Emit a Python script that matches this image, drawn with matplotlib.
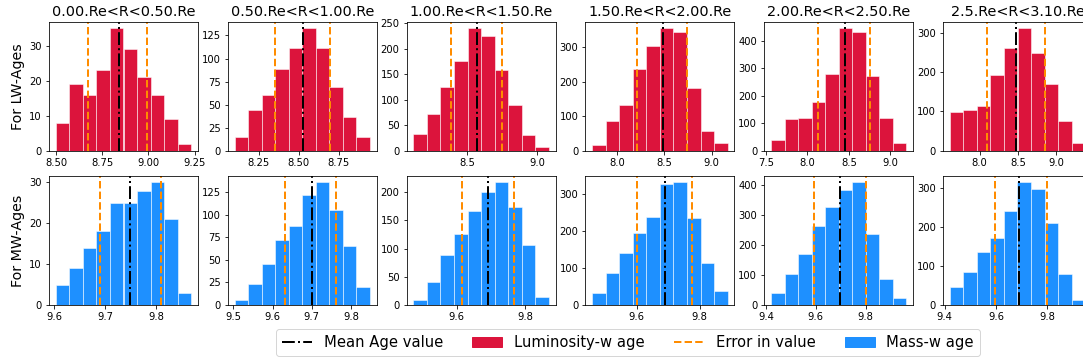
import numpy as np
import matplotlib
matplotlib.use('Agg')
import matplotlib.pyplot as plt
from matplotlib.lines import Line2D
from matplotlib.patches import Patch

# Radial bins (one column each)
titles = ['0.00.Re<R<0.50.Re', '0.50.Re<R<1.00.Re', '1.00.Re<R<1.50.Re',
          '1.50.Re<R<2.00.Re', '2.00.Re<R<2.50.Re', '2.5.Re<R<3.10.Re']

# Luminosity-weighted log ages: counts in 10 bins, sample (min, max), mean, error bounds
lw_counts = [
    [8, 19, 16, 23, 35, 29, 21, 16, 9, 2],
    [15, 44, 60, 89, 111, 133, 111, 69, 37, 15],
    [33, 72, 125, 176, 240, 224, 157, 90, 31, 7],
    [15, 85, 133, 236, 305, 356, 345, 182, 58, 21],
    [39, 115, 120, 179, 281, 447, 432, 273, 119, 28],
    [98, 104, 115, 194, 262, 313, 249, 170, 75, 19],
]
lw_range = [(8.497, 9.232), (8.100, 8.944), (8.114, 9.083),
            (7.732, 9.171), (7.560, 9.192), (7.609, 9.382)]
lw_mean = [8.838, 8.529, 8.567, 8.480, 8.448, 8.478]
lw_err = [(8.673, 8.990), (8.354, 8.696), (8.381, 8.745),
          (8.207, 8.740), (8.128, 8.752), (8.100, 8.852)]

# Mass-weighted log ages
mw_counts = [
    [5, 9, 14, 18, 25, 25, 28, 30, 21, 3],
    [6, 23, 46, 72, 88, 122, 136, 105, 66, 20],
    [9, 41, 89, 126, 166, 201, 217, 173, 106, 15],
    [33, 87, 141, 194, 238, 327, 330, 235, 112, 39],
    [39, 104, 170, 261, 324, 382, 407, 235, 85, 22],
    [46, 86, 137, 171, 241, 315, 297, 212, 79, 13],
]
mw_range = [(9.603, 9.868), (9.503, 9.849), (9.4745, 9.868),
            (9.458, 9.889), (9.420, 9.964), (9.420, 9.948)]
mw_mean = [9.748, 9.700, 9.690, 9.690, 9.697, 9.690]
mw_err = [(9.690, 9.809), (9.631, 9.762), (9.6165, 9.766),
          (9.600, 9.776), (9.593, 9.801), (9.596, 9.800)]


def draw_hist(ax, counts, rng, mean, err, color):
    edges = np.linspace(rng[0], rng[1], len(counts) + 1)
    centers = 0.5 * (edges[1:] + edges[:-1])
    ax.hist(centers, bins=edges, weights=counts, color=color,
            edgecolor='white', linewidth=0.5)
    ax.axvline(mean, color='k', ls='-.', lw=2)
    for e in err:
        ax.axvline(e, color='darkorange', ls='--', lw=2)


fig, axes = plt.subplots(2, 6, figsize=(1083 / 72., 362 / 72.), dpi=72)
fig.subplots_adjust(left=49 / 1083., right=1092 / 1083., top=1 - 22 / 362.,
                    bottom=1 - 305 / 362., wspace=0.2, hspace=0.2)

for i in range(6):
    draw_hist(axes[0, i], lw_counts[i], lw_range[i], lw_mean[i], lw_err[i], 'crimson')
    draw_hist(axes[1, i], mw_counts[i], mw_range[i], mw_mean[i], mw_err[i], 'dodgerblue')
    axes[0, i].set_title(titles[i], fontsize=14.4)

axes[0, 0].set_ylabel('For LW-Ages', fontsize=14.3)
axes[1, 0].set_ylabel('For MW-Ages', fontsize=14.3)

handles = [Line2D([], [], color='k', ls='-.', lw=2),
           Patch(color='crimson'),
           Line2D([], [], color='darkorange', ls='--', lw=2),
           Patch(color='dodgerblue')]
labels = ['Mean Age value', 'Luminosity-w age', 'Error in value', 'Mass-w age']
fig.legend(handles, labels, loc='center', ncol=4, fontsize=14.8,
           bbox_to_anchor=(628 / 1083., 1 - 342.5 / 362.))

plt.savefig('out.png', dpi=72)
